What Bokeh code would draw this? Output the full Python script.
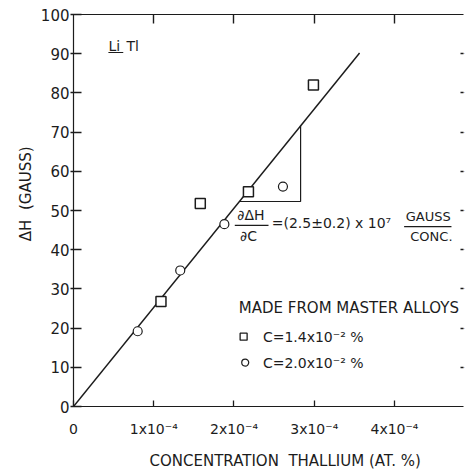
from bokeh.plotting import figure
from bokeh.models import Range1d, LinearAxis, FixedTicker, Label
from bokeh.embed import file_html
from bokeh.resources import INLINE

# ---- data (concentration in units of 1e-4 at.%) ----
sq_conc = [1.09, 1.58, 2.18, 2.99]
sq_dH = [26.8, 51.8, 54.8, 82.0]
ci_conc = [0.80, 1.33, 1.88, 2.61]
ci_dH = [19.2, 34.7, 46.5, 56.1]
fit_conc = [0.0, 3.565]
fit_dH = [0.0, 90.2]

y_ticks = [0, 10, 20, 30, 40, 50, 60, 70, 80, 90, 100]
x_ticks = [0, 1, 2, 3, 4]
x_tick_labels = ["0", "1x10\u207b\u2074", "2x10\u207b\u2074", "3x10\u207b\u2074", "4x10\u207b\u2074"]

INK = "#1c1c1c"
FONT = "DejaVu Sans"
NB = "\u00a0"

p = figure(width=467, height=472, output_backend="svg", toolbar_location=None,
           x_range=Range1d(0, 4.86), y_range=Range1d(0, 100),
           min_border_left=73, min_border_right=0, min_border_top=14, min_border_bottom=65)
p.outline_line_color = None
p.xgrid.visible = False
p.ygrid.visible = False
p.background_fill_color = "white"
p.border_fill_color = "white"

# left axis
ya = p.yaxis[0]
ya.ticker = FixedTicker(ticks=y_ticks)
ya.major_tick_in = 8
ya.major_tick_out = 3
ya.minor_tick_line_color = None
ya.major_label_standoff = 1
ya.major_label_text_font = FONT
ya.major_label_text_font_size = "15px"
ya.major_label_text_color = INK
ya.axis_line_color = INK
ya.major_tick_line_color = INK
ya.major_tick_line_width = 1.3
ya.axis_line_width = 1.2
ya.axis_label = NB * 7 + "\u0394H" + NB * 2 + "(GAUSS)"
ya.axis_label_standoff = 3
ya.axis_label_text_font = FONT
ya.axis_label_text_font_size = "15px"
ya.axis_label_text_font_style = "normal"
ya.axis_label_text_color = INK

# bottom axis
xa = p.xaxis[0]
xa.ticker = FixedTicker(ticks=x_ticks)
xa.major_label_overrides = {t: s for t, s in zip(x_ticks, x_tick_labels)}
xa.major_tick_in = 6
xa.major_tick_out = 0
xa.minor_tick_line_color = None
xa.major_label_standoff = 14
xa.major_label_text_font = FONT
xa.major_label_text_font_size = "14px"
xa.major_label_text_color = INK
xa.axis_line_color = INK
xa.major_tick_line_color = INK
xa.major_tick_line_width = 1.3
xa.axis_line_width = 1.2
xa.axis_label = NB * 7 + "CONCENTRATION" + NB * 2 + "THALLIUM" + NB + "(AT." + NB + "%)"
xa.axis_label_standoff = 12
xa.axis_label_text_font = FONT
xa.axis_label_text_font_size = "15px"
xa.axis_label_text_font_style = "normal"
xa.axis_label_text_color = INK

# top axis (ticks only)
top_ticks = x_ticks[1:]
ta = LinearAxis(ticker=FixedTicker(ticks=top_ticks),
                major_label_overrides={t: "" for t in top_ticks},
                major_tick_in=9, major_tick_out=0, minor_tick_line_color=None,
                major_label_standoff=0, axis_line_color=INK, major_tick_line_color=INK,
                major_tick_line_width=1.4, axis_line_width=1.2)
p.add_layout(ta, "above")

# right axis (ticks only, mostly cut by the page edge)
right_ticks = y_ticks[1:-1]
ra = LinearAxis(ticker=FixedTicker(ticks=right_ticks),
                major_label_text_font_size="1px",
                major_tick_in=3, major_tick_out=0, minor_tick_line_color=None,
                major_label_standoff=0, axis_line_color=None, major_tick_line_color=INK,
                major_tick_line_width=1.5)
p.add_layout(ra, "right")

# fit line
p.line(fit_conc, fit_dH, line_color=INK, line_width=1.5)

# slope triangle derived from the fit line
slope = fit_dH[1] / fit_conc[1]
tri_x = 2.83
tri_base = 52.3
p.line([tri_base / slope, tri_x, tri_x], [tri_base, tri_base, slope * tri_x],
       line_color=INK, line_width=1.2)

# data points
p.scatter(sq_conc, sq_dH, marker="square", size=10, fill_color="white",
          line_color=INK, line_width=1.5)
p.scatter(ci_conc, ci_dH, marker="circle", size=9, fill_color="white",
          line_color=INK, line_width=1.2)


def lab(x, y, text, size="14px", align="left", baseline="middle"):
    p.add_layout(Label(x=x, y=y, text=text, text_font=FONT, text_font_size=size,
                       text_align=align, text_baseline=baseline, text_color=INK))


# LiTl
lab(0.435, 92.0, "Li", size="14px")
lab(0.66, 92.0, "Tl", size="14px")
p.segment(x0=[0.435], y0=[90.3], x1=[0.62], y1=[90.3], line_color=INK, line_width=1.2)

# slope formula
lab(2.21, 48.8, "\u2202\u0394H", align="center")
p.segment(x0=[2.01], y0=[46.2], x1=[2.43], y1=[46.2], line_color=INK, line_width=1.2)
lab(2.18, 43.6, "\u2202C", align="center")
lab(2.47, 46.9, "=(2.5\u00b10.2)" + NB + "x" + NB + "10\u2077", size="14px")
lab(4.42, 48.5, "GAUSS", align="center", size="13px")
p.segment(x0=[4.12], y0=[45.9], x1=[4.71], y1=[45.9], line_color=INK, line_width=1.2)
lab(4.46, 43.4, "CONC.", align="center", size="13px")

# legend block
lab(2.06, 25.2, "MADE FROM MASTER ALLOYS", size="15px")
p.scatter([2.12], [17.8], marker="square", size=7, fill_color="white",
          line_color=INK, line_width=1.3)
lab(2.36, 17.8, "C=1.4x10\u207b\u00b2 %", size="14px")
p.scatter([2.14], [11.2], marker="circle", size=7, fill_color="white",
          line_color=INK, line_width=1.2)
lab(2.36, 11.2, "C=2.0x10\u207b\u00b2 %", size="14px")

open("out.html", "w").write(file_html(p, INLINE))
